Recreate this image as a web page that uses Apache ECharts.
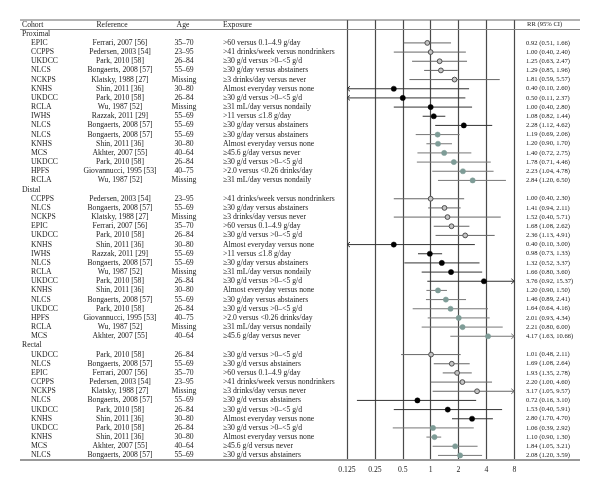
<!DOCTYPE html>
<html>
<head>
<meta charset="utf-8">
<script src="https://cdn.jsdelivr.net/npm/echarts@6/dist/echarts.min.js"></script>
<style>html,body{margin:0;padding:0;background:#fff}#c{width:600px;height:500px}</style>
</head>
<body>
<div id="c"></div>
<script>
const headers = ['Cohort', 'Reference', 'Age', 'Exposure', 'RR (95% CI)'];
const sectionNames = ['Proximal', 'Distal', 'Rectal'];
const sectionSizes = [16, 16, 12];
const tickLabels = ['0.125', '0.25', '0.5', '1', '2', '4', '8'];

const cohort = [
  'EPIC','CCPPS','UKDCC','NLCS','NCKPS','KNHS','UKDCC','RCLA','IWHS','NLCS','NLCS','KNHS','MCS','UKDCC','HPFS','RCLA',
  'CCPPS','NLCS','NCKPS','EPIC','UKDCC','KNHS','IWHS','NLCS','RCLA','UKDCC','KNHS','NLCS','UKDCC','HPFS','RCLA','MCS',
  'UKDCC','NLCS','EPIC','CCPPS','NCKPS','NLCS','UKDCC','KNHS','UKDCC','KNHS','MCS','NLCS'
];
const reference = [
  'Ferrari, 2007 [56]','Pedersen, 2003 [54]','Park, 2010 [58]','Bongaerts, 2008 [57]','Klatsky, 1988 [27]','Shin, 2011 [36]','Park, 2010 [58]','Wu, 1987 [52]','Razzak, 2011 [29]','Bongaerts, 2008 [57]','Bongaerts, 2008 [57]','Shin, 2011 [36]','Akhter, 2007 [55]','Park, 2010 [58]','Giovannucci, 1995 [53]','Wu, 1987 [52]',
  'Pedersen, 2003 [54]','Bongaerts, 2008 [57]','Klatsky, 1988 [27]','Ferrari, 2007 [56]','Park, 2010 [58]','Shin, 2011 [36]','Razzak, 2011 [29]','Bongaerts, 2008 [57]','Wu, 1987 [52]','Park, 2010 [58]','Shin, 2011 [36]','Bongaerts, 2008 [57]','Park, 2010 [58]','Giovannucci, 1995 [53]','Wu, 1987 [52]','Akhter, 2007 [55]',
  'Park, 2010 [58]','Bongaerts, 2008 [57]','Ferrari, 2007 [56]','Pedersen, 2003 [54]','Klatsky, 1988 [27]','Bongaerts, 2008 [57]','Park, 2010 [58]','Shin, 2011 [36]','Park, 2010 [58]','Shin, 2011 [36]','Akhter, 2007 [55]','Bongaerts, 2008 [57]'
];
const age = [
  '35–70','23–95','26–84','55–69','Missing','30–80','26–84','Missing','55–69','55–69','55–69','30–80','40–64','26–84','40–75','Missing',
  '23–95','55–69','Missing','35–70','26–84','30–80','55–69','55–69','Missing','26–84','30–80','55–69','26–84','40–75','Missing','40–64',
  '26–84','55–69','35–70','23–95','Missing','55–69','26–84','30–80','26–84','30–80','40–64','55–69'
];
const exposure = [
  '>60 versus 0.1–4.9 g/day','>41 drinks/week versus nondrinkers','≥30 g/d versus >0–<5 g/d','≥30 g/day versus abstainers','≥3 drinks/day versus never','Almost everyday versus none','≥30 g/d versus >0–<5 g/d','≥31 mL/day versus nondaily','>11 versus ≤1.8 g/day','≥30 g/day versus abstainers','≥30 g/day versus abstainers','Almost everyday versus none','≥45.6 g/day versus never','≥30 g/d versus >0–<5 g/d','>2.0 versus <0.26 drinks/day','≥31 mL/day versus nondaily',
  '>41 drinks/week versus nondrinkers','≥30 g/day versus abstainers','≥3 drinks/day versus never','>60 versus 0.1–4.9 g/day','≥30 g/d versus >0–<5 g/d','Almost everyday versus none','>11 versus ≤1.8 g/day','≥30 g/day versus abstainers','≥31 mL/day versus nondaily','≥30 g/d versus >0–<5 g/d','Almost everyday versus none','≥30 g/day versus abstainers','≥30 g/d versus >0–<5 g/d','>2.0 versus <0.26 drinks/day','≥31 mL/day versus nondaily','≥45.6 g/day versus never',
  '≥30 g/d versus >0–<5 g/d','≥30 g/d versus abstainers','>60 versus 0.1–4.9 g/day','>41 drinks/week versus nondrinkers','≥3 drinks/day versus never','≥30 g/d versus abstainers','≥30 g/d versus >0–<5 g/d','Almost everyday versus none','≥30 g/d versus >0–<5 g/d','Almost everyday versus none','≥45.6 g/d versus never','≥30 g/d versus abstainers'
];
const rr = [
  0.92,1.00,1.25,1.29,1.81,0.40,0.50,1.00,1.08,2.28,1.19,1.20,1.40,1.78,2.23,2.84,
  1.00,1.41,1.52,1.68,2.36,0.40,0.98,1.32,1.66,3.76,1.20,1.46,1.64,2.01,2.21,4.17,
  1.01,1.69,1.93,2.20,3.17,0.72,1.53,2.80,1.06,1.10,1.84,2.08
];
const lower = [
  0.51,0.40,0.63,0.85,0.59,0.10,0.11,0.40,0.82,1.12,0.69,0.90,0.72,0.71,1.04,1.20,
  0.40,0.94,0.40,1.08,1.13,0.10,0.73,0.52,0.80,0.92,0.90,0.89,0.64,0.93,0.80,1.63,
  0.48,1.08,1.35,1.00,1.05,0.16,0.40,1.70,0.39,0.90,1.05,1.20
];
const upper = [
  1.66,2.40,2.47,1.96,5.57,2.60,2.37,2.80,1.44,4.62,2.06,1.70,2.75,4.46,4.78,6.50,
  2.30,2.11,5.71,2.62,4.91,3.00,1.33,3.37,3.60,15.37,1.50,2.41,4.16,4.34,6.00,10.66,
  2.11,2.64,2.78,4.60,9.57,3.10,5.91,4.70,2.92,1.30,3.21,3.59
];
// marker style group: 0 = open grey, 1 = black, 2 = grey-green
const markerGroup = [
  0,0,0,0,0,1,1,1,1,1,2,2,2,2,2,2,
  0,0,0,0,0,1,1,1,1,1,2,2,2,2,2,2,
  0,0,0,0,0,1,1,1,2,2,2,2
];

// ---- build row layout ----
const rows = [{kind: 'header'}];
let k = 0;
sectionNames.forEach((name, s) => {
  rows.push({kind: 'section', name});
  for (let j = 0; j < sectionSizes[s]; j++) { rows.push({kind: 'entry', i: k}); k++; }
});
const nRows = rows.length;
const forestData = [];
rows.forEach((r, idx) => {
  if (r.kind === 'entry') forestData.push([rr[r.i], lower[r.i], upper[r.i], idx, markerGroup[r.i]]);
});

const FONT = '7.7px "Liberation Serif", "DejaVu Serif", serif';
const FONT_RR = '6.6px "Liberation Serif", "DejaVu Serif", serif';
const TXT = '#222';
const f2 = v => v.toFixed(2);
const AXMIN = 0.125, AXMAX = 8;

function txt(x, y, text, align, font) {
  return {type: 'text', x: x, y: y, style: {text: text, font: font || FONT, fill: TXT, textAlign: align || 'left', textVerticalAlign: 'middle'}};
}

const chart = echarts.init(document.getElementById('c'), null, {renderer: 'canvas'});
const option = {
  backgroundColor: '#fff',
  animation: false,
  grid: [
    {left: 347, width: 167.3, top: 20, height: 440},
    {left: 0, width: 600, top: 20, height: 440}
  ],
  xAxis: [
    {
      type: 'log', logBase: 2, min: AXMIN, max: AXMAX, interval: 1, splitNumber: 6, gridIndex: 0,
      axisLine: {show: false}, axisTick: {show: false},
      axisLabel: {
        margin: 6, fontFamily: 'Liberation Serif', fontSize: 7.7, color: TXT,
        formatter: v => { const e = Math.round(Math.log2(v)); return tickLabels[e + 3]; }
      },
      splitLine: {show: true, lineStyle: {color: '#4a4a4a', width: 1.2}}
    },
    {type: 'value', min: 0, max: 600, gridIndex: 1, show: false}
  ],
  yAxis: [
    {type: 'value', min: -0.5, max: nRows - 0.5, inverse: true, gridIndex: 0, show: false},
    {type: 'value', min: -0.5, max: nRows - 0.5, inverse: true, gridIndex: 1, show: false}
  ],
  graphic: [
    {type: 'line', shape: {x1: 20, y1: 20, x2: 580, y2: 20}, style: {stroke: '#666', lineWidth: 1}, z: 10},
    {type: 'line', shape: {x1: 20, y1: 29.5, x2: 580, y2: 29.5}, style: {stroke: '#888', lineWidth: 1}, z: 10},
    {type: 'line', shape: {x1: 20, y1: 460, x2: 580, y2: 460}, style: {stroke: '#999', lineWidth: 2}, z: 10}
  ],
  series: [
    {
      type: 'custom', xAxisIndex: 1, yAxisIndex: 1, silent: true,
      data: rows.map((r, idx) => [0, idx]),
      renderItem: function (params, api) {
        const r = rows[params.dataIndex];
        const y = api.coord([0, api.value(1)])[1];
        if (r.kind === 'header') {
          return {type: 'group', children: [
            txt(22, y, headers[0]), txt(112, y, headers[1], 'center'), txt(183, y, headers[2], 'center'),
            txt(223, y, headers[3]), txt(527, y, headers[4], 'left', FONT_RR)
          ]};
        }
        if (r.kind === 'section') return {type: 'group', children: [txt(22, y, r.name)]};
        const i = r.i;
        return {type: 'group', children: [
          txt(31, y, cohort[i]), txt(120, y, reference[i], 'center'), txt(184, y, age[i], 'center'),
          txt(223, y, exposure[i]),
          txt(526, y, f2(rr[i]) + ' (' + f2(lower[i]) + ', ' + f2(upper[i]) + ')', 'left', FONT_RR)
        ]};
      }
    },
    {
      type: 'custom', xAxisIndex: 0, yAxisIndex: 0, silent: true, clip: false,
      data: forestData,
      renderItem: function (params, api) {
        const v = api.value(0), lo = api.value(1), hi = api.value(2), row = api.value(3), g = api.value(4);
        const loC = Math.max(lo, AXMIN), hiC = Math.min(hi, AXMAX);
        const pL = api.coord([loC, row]), pR = api.coord([hiC, row]), p = api.coord([v, row]);
        const lineColor = g === 1 ? '#333' : (g === 0 ? '#666' : '#777');
        const children = [
          {type: 'line', shape: {x1: pL[0], y1: pL[1], x2: pR[0], y2: pR[1]}, style: {stroke: lineColor, lineWidth: 1}}
        ];
        if (lo < AXMIN) children.push({type: 'polyline', shape: {points: [[pL[0] + 3, pL[1] - 2.5], [pL[0], pL[1]], [pL[0] + 3, pL[1] + 2.5]]}, style: {stroke: lineColor, lineWidth: 1, fill: null}});
        if (hi > AXMAX) children.push({type: 'polyline', shape: {points: [[pR[0] - 3, pR[1] - 2.5], [pR[0], pR[1]], [pR[0] - 3, pR[1] + 2.5]]}, style: {stroke: lineColor, lineWidth: 1, fill: null}});
        let st;
        if (g === 0) st = {fill: '#c4c4c4', stroke: '#505050', lineWidth: 1};
        else if (g === 1) st = {fill: '#000', stroke: '#000', lineWidth: 0.5};
        else st = {fill: '#7e9c97', stroke: '#7e9c97', lineWidth: 0.5};
        children.push({type: 'circle', shape: {cx: p[0], cy: p[1], r: g === 0 ? 2.4 : 2.6}, style: st});
        return {type: 'group', children: children};
      }
    }
  ]
};
chart.setOption(option);
</script>
</body>
</html>
